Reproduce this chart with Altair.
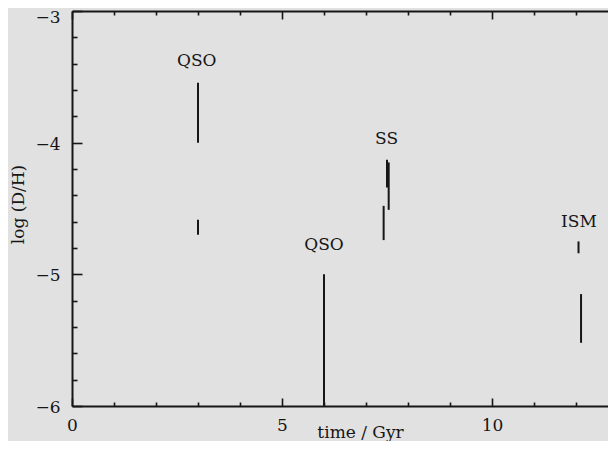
import altair as alt
import pandas as pd

# vertical measurement segments: time (Gyr), low and high log(D/H)
seg_time = [3.0, 3.0, 6.0, 7.50, 7.54, 7.42, 12.06, 12.12]
seg_low = [-4.0, -4.70, -6.0, -4.34, -4.51, -4.74, -4.84, -5.52]
seg_high = [-3.545, -4.585, -5.0, -4.13, -4.15, -4.48, -4.75, -5.15]

# text labels
lab_text = ["QSO", "QSO", "SS", "ISM"]
lab_time = [2.97, 6.0, 7.49, 12.07]
lab_val = [-3.38, -4.78, -3.97, -4.60]

# axis ticks
x_major = [0, 5, 10]
x_minor = [1, 2, 3, 4, 6, 7, 8, 9, 11, 12]
y_major = [-6, -5, -4, -3]
y_minor = [-5.8, -5.6, -5.4, -5.2, -4.8, -4.6, -4.4, -4.2, -3.8, -3.6, -3.4, -3.2]

W, H = 536, 395
PX_PER_GYR = 42.0
FONT = "DejaVu Serif"
INK = "#161616"
BG = "#e1e1e1"

segs = pd.DataFrame({"t": seg_time, "lo": seg_low, "hi": seg_high})
labs = pd.DataFrame({"t": lab_time, "v": lab_val, "txt": lab_text})

xs = alt.Scale(domain=[0, W / PX_PER_GYR], nice=False, zero=False)
ys = alt.Scale(domain=[-6, -3], nice=False, zero=False)


def tick_axis(orient, values, size, offset, domain=False):
    return alt.Axis(
        orient=orient, values=values, tickSize=size, offset=offset,
        labels=False, title=None, grid=False, domain=domain,
        domainColor=INK, domainWidth=2, tickColor=INK, tickWidth=1.6,
    )


main = alt.Chart(segs).mark_rule(color=INK, strokeWidth=2).encode(
    x=alt.X("t:Q", scale=xs, axis=alt.Axis(
        orient="bottom", values=x_major, ticks=False, grid=False,
        domain=True, domainColor=INK, domainWidth=2,
        labelFont=FONT, labelFontSize=17, labelColor=INK, labelPadding=11,
        labelFlush=False, format="d",
        title="time / Gyr", titleFont=FONT, titleFontSize=17,
        titleFontWeight="normal", titleColor=INK,
        titleX=288, titleY=31.5, titleBaseline="alphabetic", titleAlign="center",
    )),
    y=alt.Y("lo:Q", scale=ys, axis=alt.Axis(
        orient="left", values=y_major, ticks=False, grid=False,
        domain=True, domainColor=INK, domainWidth=2,
        labelFont=FONT, labelFontSize=17, labelColor=INK, labelPadding=12,
        labelFlush=False, format="d",
        labelOffset={"condition": {"test": "datum.value == -3", "value": 6}, "value": 1.5},
        title="log (D/H)", titleFont=FONT, titleFontSize=17,
        titleFontWeight="normal", titleColor=INK,
        titleX=-54, titleY=193, titleAngle=270, titleBaseline="middle",
        titleAlign="center",
    )),
    y2="hi:Q",
)

text = alt.Chart(labs).mark_text(
    font=FONT, fontSize=17, color=INK, baseline="middle", align="center"
).encode(
    x=alt.X("t:Q", scale=xs, axis=tick_axis("top", x_major, 8, -H)),
    y=alt.Y("v:Q", scale=ys, axis=tick_axis("right", y_major, 10, -W)),
    text="txt:N",
)

inv3 = alt.Chart(segs).mark_rule(opacity=0).encode(
    x=alt.X("t:Q", scale=xs, axis=tick_axis("top", x_minor, 4, -H)),
    y=alt.Y("lo:Q", scale=ys, axis=tick_axis("right", y_minor, 5, -W)),
    y2="hi:Q",
)

inv4 = alt.Chart(segs).mark_rule(opacity=0).encode(
    x=alt.X("t:Q", scale=xs, axis=tick_axis("bottom", x_major, 8, -H, domain=True)),
    y=alt.Y("lo:Q", scale=ys, axis=tick_axis("left", y_major, 10, -(W + 10), domain=True)),
    y2="hi:Q",
)

inv5 = alt.Chart(segs).mark_rule(opacity=0).encode(
    x=alt.X("t:Q", scale=xs, axis=tick_axis("bottom", x_minor, 4, -H)),
    y=alt.Y("lo:Q", scale=ys, axis=tick_axis("left", y_minor, 5, -(W + 10))),
    y2="hi:Q",
)

chart = alt.layer(main, text, inv3, inv4, inv5).resolve_axis(
    x="independent", y="independent"
).properties(
    width=W, height=H,
    autosize=alt.AutoSizeParams(type="none"),
    padding={"left": 64, "top": 3, "right": 0, "bottom": 35},
    background=BG,
).configure_view(stroke=None)

chart.save("out.html", embed_options={"renderer": "svg", "actions": False})
